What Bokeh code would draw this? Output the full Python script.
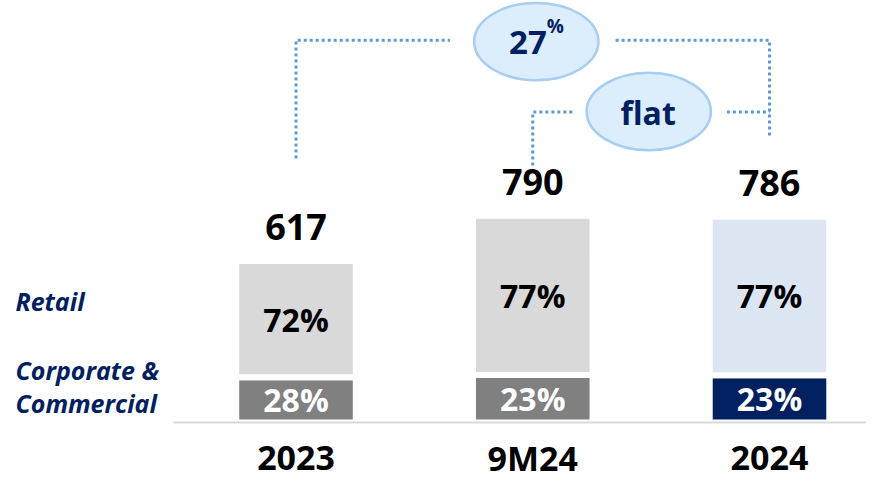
from bokeh.plotting import figure
from bokeh.models import Range1d, ColumnDataSource
from bokeh.core.properties import value
from bokeh.embed import file_html
from bokeh.resources import INLINE

# ---------------- data ----------------
categories = ["2023", "9M24", "2024"]
totals = [617, 790, 786]
corporate_share = [28, 23, 23]
retail_share = [72, 77, 77]
segment_names = ["Retail", "Corporate &\nCommercial"]
retail_colors = ["#d9d9d9", "#d9d9d9", "#dce6f2"]
corporate_colors = ["#808080", "#808080", "#002060"]
bubble_texts = ["27", "flat"]

# ---------------- styles ----------------
FONT = value("Open Sans")
NAVY = "#002060"
DOT = "#5b9bd5"
BAR_W = 0.505

xs = list(range(len(categories)))
corp_top = [t * s / 100 for t, s in zip(totals, corporate_share)]
src = ColumnDataSource(dict(
    x=xs, cat=categories, total=totals,
    corp_top=corp_top,
    corp_mid=[c / 2 for c in corp_top],
    ret_mid=[(c + t) / 2 for c, t in zip(corp_top, totals)],
    corp_lbl=[f"{s}%" for s in corporate_share],
    ret_lbl=[f"{s}%" for s in retail_share],
    tot_lbl=[str(t) for t in totals],
    rc=retail_colors, cc=corporate_colors,
))

X0, X1 = -1.2482, 2.4097
p = figure(width=866, height=480, x_range=Range1d(X0, X1),
           y_range=Range1d(-221.6, 1612), output_backend="svg",
           toolbar_location=None, min_border=0,
           x_axis_location=None, y_axis_location=None)
p.grid.visible = False
p.outline_line_color = None

# bars
p.vbar(x="x", bottom=0, top="corp_top", width=BAR_W, fill_color="cc",
       line_color="white", line_width=6, source=src)
p.vbar(x="x", bottom="corp_top", top="total", width=BAR_W, fill_color="rc",
       line_color="white", line_width=6, source=src)

# baseline
p.segment(x0=[-0.5175], y0=[0], x1=[X1], y1=[0], line_color="#d9d9d9", line_width=2)

# labels in bars
p.text(x="x", y="ret_mid", text="ret_lbl", source=src, text_font=FONT,
       text_font_style="bold", text_font_size="32px", text_align="center",
       text_baseline="middle", text_color="black")
p.text(x="x", y="corp_mid", text="corp_lbl", source=src, text_font=FONT,
       text_font_style="bold", text_font_size="32px", text_align="center",
       text_baseline="middle", text_color="white")
# totals
p.text(x="x", y="total", text="tot_lbl", source=src, text_font=FONT,
       text_font_style="bold", text_font_size="36px", text_align="center",
       text_baseline="middle", text_color="black", y_offset=-34)
# category labels
p.text(x="x", y=-134, text="cat", source=src, text_font=FONT,
       text_font_style="bold", text_font_size="34px", text_align="center",
       text_baseline="middle", text_color="black")

# segment names on the left
name_lines = [segment_names[0]] + segment_names[1].split("\n")
p.text(x=[-1.185] * 3, y=[466, 199, 73], text=name_lines, text_font=FONT,
       text_font_style="bold italic", text_font_size="25px", text_align="left",
       text_baseline="middle", text_color=NAVY)

# growth bubbles and brackets
LEVEL_HI = 1460
LEVEL_LO = 1186
b1x = (xs[0] + xs[2]) / 2
b2x = (xs[1] + xs[2]) / 2
dots = dict(line_color=DOT, line_width=3, line_dash="3 3", line_cap="butt")
p.line(x=[xs[0], xs[0], b1x - 0.35], y=[1008, LEVEL_HI, LEVEL_HI], **dots)
p.line(x=[b1x + 0.35, xs[2], xs[2]], y=[LEVEL_HI, LEVEL_HI, 1089], **dots)
p.line(x=[xs[1], xs[1], b2x - 0.32], y=[982, LEVEL_LO, LEVEL_LO], **dots)
p.line(x=[b2x + 0.32, xs[2]], y=[LEVEL_LO, LEVEL_LO], **dots)

p.ellipse(x=[b1x + 0.015, b2x - 0.01], y=[LEVEL_HI - 5, LEVEL_LO + 2],
          width=0.525, height=296,
          fill_color="#dcedfc", line_color="#a6cdf2", line_width=2.5)

p.text(x=[b1x], y=[LEVEL_HI], text=[bubble_texts[0]], text_font=FONT,
       text_font_style="bold", text_font_size="33px", text_align="right",
       text_baseline="middle", text_color=NAVY, x_offset=14, y_offset=2)
p.text(x=[b1x], y=[LEVEL_HI], text=["%"], text_font=FONT,
       text_font_style="bold", text_font_size="19px", text_align="left",
       text_baseline="middle", text_color=NAVY, x_offset=14, y_offset=-14)
p.text(x=[b2x], y=[LEVEL_LO], text=[bubble_texts[1]], text_font=FONT,
       text_font_style="bold", text_font_size="32px", text_align="center",
       text_baseline="middle", text_color=NAVY, x_offset=-3)

open("out.html", "w").write(file_html(p, INLINE))
